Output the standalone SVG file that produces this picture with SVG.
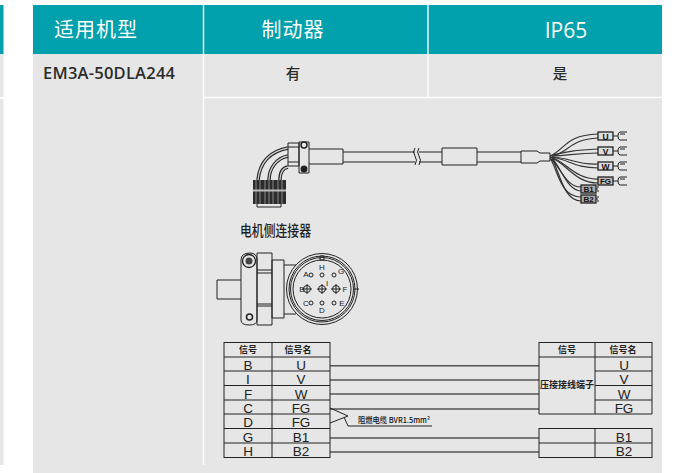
<svg xmlns="http://www.w3.org/2000/svg" width="675" height="473" viewBox="0 0 675 473">
<style>
.hd{font-family:"Noto Sans CJK SC","Noto Sans",sans-serif;font-size:20px;letter-spacing:1px;fill:#fff;text-anchor:middle}
.bd{font-family:"Noto Sans CJK SC","Noto Sans",sans-serif;font-size:14.500px;fill:#2b2b2b;text-anchor:middle;font-weight:500}
.l{fill:none;stroke:#222;stroke-width:1}
.w{fill:none;stroke:#333;stroke-width:1.200}
.g{fill:none;stroke:#555;stroke-width:1.400}
.t{font-family:"Liberation Sans",sans-serif;font-size:13.500px;fill:#222;text-anchor:middle}
.c{font-family:"Noto Sans CJK SC",sans-serif;font-size:9px;fill:#222;text-anchor:middle;font-weight:700}
.s{font-family:"Liberation Sans",sans-serif;font-size:8.500px;fill:#111;font-weight:700;text-anchor:middle}
.p{font-family:"Liberation Sans",sans-serif;font-size:8px;fill:#222;text-anchor:middle}
</style>
<rect width="675" height="473" fill="#fff"/>
<g id="table">
<rect x="0" y="5" width="3.500" height="49" fill="#00a0ac"/>
<rect x="0" y="54" width="3.500" height="43" fill="#e6e6e6"/>
<rect x="0" y="99" width="3.500" height="366" fill="#e6e6e6"/>
<rect x="33" y="5" width="629" height="49" fill="#00a0ac"/>
<rect x="33" y="54" width="629" height="419" fill="#e6e6e6"/>
<path d="M203.500 5V465M428 5V97M204 97.500H662" fill="none" stroke="#fff" stroke-width="1.500" opacity=".9"/>
<text class="hd" x="96" y="37">适用机型</text>
<text class="hd" x="293" y="37">制动器</text>
<text class="hd" x="566" y="38" style="font-family:'Open Sans',sans-serif;letter-spacing:0;font-size:21px;font-weight:500">IP65</text>
<text class="bd" x="109" y="79" style="font-family:'Open Sans',sans-serif;font-size:16.500px;font-weight:600" textLength="132">EM3A-50DLA244</text>
<text class="bd" x="293" y="79">有</text>
<text class="bd" x="560" y="79">是</text>
</g>
<g id="cable">
<path class="l" d="M309 149H343V164H309M343 152H415M343 162H415M419 152H442M419 162H442M442 148H477V165H442ZM477 152H521M477 162H521M521 151H537L540 153H550V161H540L537 163H521Z"/>
<path class="l" d="M415 148Q412 152 415 156Q418 160 415 165M419 148Q416 152 419 156Q422 160 419 165"/>
<path class="w" d="M550 156C565 150 565 135 598 134M550 156C565 152 575 150 598 149M550 157C570 157 575 165 598 164M550 157C565 160 575 180 598 179M550 158C560 165 565 187 581 187M550 158C558 170 560 197 581 197"/>
<path class="w" d="M552 156C568 153 570 139 598 138M552 156C568 156 575 153 598 153M552 157C570 160 575 168 598 168M552 158C567 164 575 183 598 183M552 158C562 170 568 191 581 191M552 158C560 174 564 201 581 201"/>
</g>
<g id="term-u"><rect x="598" y="132" width="15" height="8" fill="#ddd" stroke="#222" stroke-width="1.300"/><text class="s" x="605.500" y="139.500">U</text><path class="l" d="M613 136H618M627 132H620Q618 132 618 136Q618 140 620 140H627M620 134H625"/></g>
<g id="term-v"><rect x="598" y="147" width="15" height="8" fill="#ddd" stroke="#222" stroke-width="1.300"/><text class="s" x="605.500" y="154.500">V</text><path class="l" d="M613 151H618M627 147H620Q618 147 618 151Q618 155 620 155H627M620 149H625"/></g>
<g id="term-w"><rect x="598" y="162" width="15" height="8" fill="#ddd" stroke="#222" stroke-width="1.300"/><text class="s" x="605.500" y="169.500">W</text><path class="l" d="M613 166H618M627 162H620Q618 162 618 166Q618 170 620 170H627M620 164H625"/></g>
<g id="term-fg"><rect x="598" y="177" width="15" height="8" fill="#bbb" stroke="#222" stroke-width="1.300"/><text class="s" x="605.500" y="184" style="font-size:8px">FG</text><path class="l" d="M613 181H618M627 177H620Q618 177 618 181Q618 185 620 185H627M620 179H625"/></g>
<g id="term-b1"><rect x="581" y="185" width="15" height="8" fill="#aaa" stroke="#222" stroke-width="1.300"/><text class="s" x="588.500" y="192" style="font-size:8px">B1</text><path class="l" d="M596 189H598M597 187H599M597 191H599"/></g>
<g id="term-b2"><rect x="581" y="195" width="15" height="8" fill="#aaa" stroke="#222" stroke-width="1.300"/><text class="s" x="588.500" y="202" style="font-size:8px">B2</text><path class="l" d="M596 199H598M597 197H599M597 201H599"/></g>
<g id="plug">
<path d="M258 180C260 160 272 151 288 148M269 180C269 168 277 158 288 156M280 180C280 173 282 168 288 167" fill="none" stroke="#222" stroke-width="3.500"/>
<path d="M258 180C260 160 272 151 288 148M269 180C269 168 277 158 288 156M280 180C280 173 282 168 288 167" fill="none" stroke="#ccc" stroke-width="1.300"/>
<path class="l" d="M288 143H299V166H288ZM299 142H309V173H299ZM288 147H299M288 162H299"/>
<circle cx="304" cy="145" r="3" fill="none" stroke="#222" stroke-width="1.500"/>
<circle cx="304" cy="169" r="3.500" fill="#222"/>
<rect x="253" y="180" width="33" height="24" fill="#2c2c2c"/>
<path d="M256 180V204M260 180V204M265 180V204M269 180V204M273 180V204M278 180V204M282 180V204" stroke="#888" stroke-width="1"/>
<path d="M253 190.500H286" stroke="#bbb" stroke-width="2"/>
<path class="l" d="M257 204V207H281V204"/>
<text x="275.500" y="236" style="font-size:15px;font-family:'Noto Sans CJK SC',sans-serif;font-weight:500;fill:#222;text-anchor:middle" textLength="71" lengthAdjust="spacingAndGlyphs">电机侧连接器</text>
</g>
<g id="front">
<path class="l" d="M241 260Q241 253 250 253Q257 253 257 260V320Q257 325 249 325Q241 325 241 320ZM217 280H241M217 280V299H241M257 253H272V325H257ZM272 260H284V318H272ZM257 270H272M257 273H272M257 304H272M257 306H272M284 265H296M284 314H296"/>
<circle cx="249" cy="261" r="6.500" fill="none" stroke="#222" stroke-width="1.300"/>
<circle cx="249" cy="261" r="3.500" fill="#444"/>
<circle cx="249.500" cy="317" r="3" fill="none" stroke="#222" stroke-width="1.500"/>
<circle cx="322" cy="289" r="35.500" fill="#e6e6e6" stroke="#222"/>
<circle cx="322" cy="289" r="33" class="l"/>
<circle cx="322" cy="289" r="31.500" class="l"/>
<circle cx="322" cy="289" r="29" class="l"/>
<path class="l" d="M354 289H359M320 256H324V260H320Z"/>
<g>
<circle cx="322" cy="275" r="2" class="l"/><circle cx="334" cy="275" r="2" class="l"/><circle cx="311" cy="275" r="2" class="l"/>
<circle cx="307" cy="289" r="3.500" class="l"/><circle cx="322" cy="289" r="3.500" class="l"/><circle cx="336" cy="289" r="3.500" class="l"/>
<path class="l" d="M302 289H312M307 284V294M317 289H327M322 284V294M331 289H341M336 284V294"/>
<circle cx="311" cy="303" r="2" class="l"/><circle cx="322" cy="303" r="2" class="l"/><circle cx="334" cy="303" r="2" class="l"/>
</g>
<text class="p" x="306" y="277">A</text><text class="p" x="322" y="270">H</text><text class="p" x="341" y="274">G</text><text class="p" x="302" y="292">B</text><text class="p" x="327" y="286">I</text><text class="p" x="345" y="292">F</text><text class="p" x="306" y="306">C</text><text class="p" x="322" y="313">D</text><text class="p" x="342" y="306">E</text>
</g>
<g id="connectors">
<path class="g" d="M330 365.700H539M330 380H539M330 394H539M330 409H539M330 438H539M330 452H539"/>
<path class="l" d="M330 408L348 416L330 423M344 417L348 426H432"/>
<text x="358" y="423" style="font-family:'Noto Sans CJK SC','Liberation Sans',sans-serif;font-size:8px;fill:#111;font-weight:500" textLength="72" lengthAdjust="spacingAndGlyphs">阻燃电缆 BVR1.5mm²</text>
</g>
<g id="left-table">
<path d="M224 342.500H330M224 357H330M224 371H330M224 385.500H330M224 400H330M224 414H330M224 428.500H330M224 443H330M224 457.500H330M224 342V458M272 342V458M330 342V458" fill="none" stroke="#222" stroke-width="1"/>
<text class="c" x="248" y="353">信号</text><text class="c" x="298" y="353">信号名</text>
<text class="t" x="248" y="369.500">B</text><text class="t" x="301" y="369.500">U</text>
<text class="t" x="248" y="383.500">I</text><text class="t" x="301" y="383.500">V</text>
<text class="t" x="248" y="398.500">F</text><text class="t" x="301" y="398.500">W</text>
<text class="t" x="248" y="412.500">C</text><text class="t" x="301" y="412.500">FG</text>
<text class="t" x="248" y="426.500">D</text><text class="t" x="301" y="426.500">FG</text>
<text class="t" x="248" y="441.500">G</text><text class="t" x="301" y="441.500">B1</text>
<text class="t" x="248" y="455.500">H</text><text class="t" x="301" y="455.500">B2</text>
</g>
<g id="right-table">
<path d="M539 342.500H652M539 357H652M595 371H652M595 385.500H652M595 400H652M539 414H652M539 428.500H652M539 443H652M539 457.500H652M539 342V414M595 342V414M652 342V414M539 428V458M595 428V458M652 428V458" fill="none" stroke="#222" stroke-width="1"/>
<text class="c" x="567" y="353">信号</text><text class="c" x="623" y="353">信号名</text>
<text class="c" x="567" y="388" style="font-size:9.500px" textLength="54" lengthAdjust="spacingAndGlyphs">压接接线端子</text>
<text class="t" x="624" y="369.500">U</text><text class="t" x="624" y="383.500">V</text><text class="t" x="624" y="398.500">W</text><text class="t" x="624" y="412.500">FG</text>
<text class="t" x="624" y="441.500">B1</text><text class="t" x="624" y="455.500">B2</text>
</g>
</svg>
